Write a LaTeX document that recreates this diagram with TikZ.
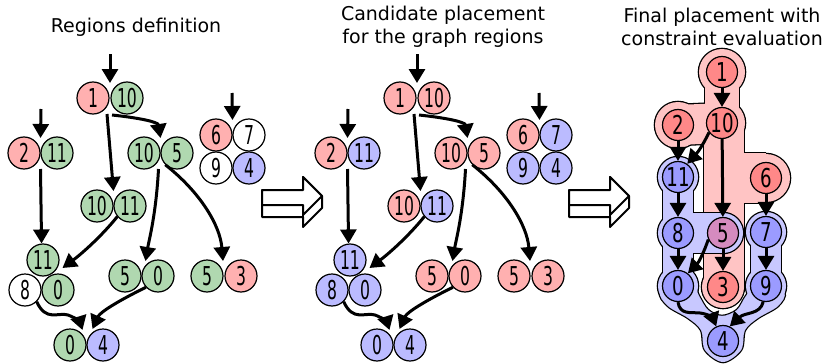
\documentclass[tikz,border=0pt]{standalone}
\usepackage{fontspec}
\setmainfont{DejaVu Sans}
\newfontfamily\numa[FakeStretch=0.6]{DejaVu Sans}
\newfontfamily\numb[FakeStretch=0.7]{DejaVu Sans}
\usetikzlibrary{arrows.meta,calc}

\definecolor{pk}{HTML}{FFB0B0}
\definecolor{gr}{HTML}{B0D8B0}
\definecolor{bl}{HTML}{BBBBFF}
\definecolor{rred}{HTML}{FF8888}
\definecolor{rblue}{HTML}{9B9BFF}
\definecolor{rpur}{HTML}{D58BBF}
\definecolor{pbg}{HTML}{FFC4C4}
\definecolor{bbg}{HTML}{C8C8FF}

% left panel colours
\colorlet{La1}{pk}\colorlet{La10}{gr}\colorlet{La2}{pk}\colorlet{La11}{gr}
\colorlet{Lb10}{gr}\colorlet{Lb5}{gr}
\colorlet{Lc6}{pk}\colorlet{Lc7}{white}\colorlet{Lc9}{white}\colorlet{Lc4}{bl}
\colorlet{Ld10}{gr}\colorlet{Ld11}{gr}
\colorlet{Le11}{gr}\colorlet{Le8}{white}\colorlet{Le0}{gr}
\colorlet{Lf5}{gr}\colorlet{Lf0}{gr}\colorlet{Lg5}{gr}\colorlet{Lg3}{pk}
\colorlet{Lh0}{gr}\colorlet{Lh4}{bl}
% middle panel colours
\colorlet{Ma1}{pk}\colorlet{Ma10}{pk}\colorlet{Ma2}{pk}\colorlet{Ma11}{bl}
\colorlet{Mb10}{pk}\colorlet{Mb5}{pk}
\colorlet{Mc6}{pk}\colorlet{Mc7}{bl}\colorlet{Mc9}{bl}\colorlet{Mc4}{bl}
\colorlet{Md10}{pk}\colorlet{Md11}{bl}
\colorlet{Me11}{bl}\colorlet{Me8}{bl}\colorlet{Me0}{bl}
\colorlet{Mf5}{pk}\colorlet{Mf0}{pk}\colorlet{Mg5}{pk}\colorlet{Mg3}{pk}
\colorlet{Mh0}{bl}\colorlet{Mh4}{bl}

\tikzset{
  pn/.style={circle, draw, line width=1.2pt, minimum size=32pt, inner sep=0pt,
    font=\numa\fontsize{26}{26}\selectfont},
  rn/.style={circle, draw, line width=1.2pt, minimum size=31pt, inner sep=0pt,
    font=\numb\fontsize{26}{26}\selectfont},
  arr/.style={line width=3pt, -{Triangle[length=14pt,width=16pt]}},
  ttl/.style={font=\fontsize{19}{23}\selectfont, align=center},
  bigarr/.style={fill=white, line width=2pt, line join=round},
}

\newcommand\regpanel[2]{%
  \def\pox{#2}%
  \node[pn,fill=#1a1]  (#1a1)  at (\pox+93,98)  {1};
  \node[pn,fill=#1a10] (#1a10) at (\pox+127,98) {10};
  \node[pn,fill=#1a2]  (#1a2)  at (\pox+24,153) {2};
  \node[pn,fill=#1a11] (#1a11) at (\pox+57,153) {11};
  \node[pn,fill=#1b10] (#1b10) at (\pox+144,153) {10};
  \node[pn,fill=#1b5]  (#1b5)  at (\pox+177,153) {5};
  \node[pn,fill=#1c6]  (#1c6)  at (\pox+216,135) {6};
  \node[pn,fill=#1c7]  (#1c7)  at (\pox+249,135) {7};
  \node[pn,fill=#1c9]  (#1c9)  at (\pox+216,168) {9};
  \node[pn,fill=#1c4]  (#1c4)  at (\pox+249,168) {4};
  \node[pn,fill=#1d10] (#1d10) at (\pox+97,206) {10};
  \node[pn,fill=#1d11] (#1d11) at (\pox+130,206) {11};
  \node[pn,fill=#1e11] (#1e11) at (\pox+43,260) {11};
  \node[pn,fill=#1e8]  (#1e8)  at (\pox+25,290) {8};
  \node[pn,fill=#1e0]  (#1e0)  at (\pox+58,290) {0};
  \node[pn,fill=#1f5]  (#1f5)  at (\pox+125,276) {5};
  \node[pn,fill=#1f0]  (#1f0)  at (\pox+158,276) {0};
  \node[pn,fill=#1g5]  (#1g5)  at (\pox+207,276) {5};
  \node[pn,fill=#1g3]  (#1g3)  at (\pox+241,276) {3};
  \node[pn,fill=#1h0]  (#1h0)  at (\pox+70,345) {0};
  \node[pn,fill=#1h4]  (#1h4)  at (\pox+103,345) {4};
  \coordinate (#1ina) at (\pox+110,54);
  \coordinate (#1inb) at (\pox+41,109);
  \coordinate (#1inc) at (\pox+232,93);
  \draw[arr] (#1ina) -- ($(#1a1)!0.5!(#1a10)+(0,-15)$);
  \draw[arr] (#1inb) -- ($(#1a2)!0.5!(#1a11)+(0,-15)$);
  \draw[arr] (#1inc) -- ($(#1c6)!0.5!(#1c7)+(0,-15)$);
  \draw[arr] ($(#1a1)!0.5!(#1a10)+(-3,16)$) -- ($(#1d10)!0.5!(#1d11)+(0,-15)$);
  \draw[arr] ($(#1a1)!0.5!(#1a10)+(2,17)$) .. controls (\pox+140,118) and (\pox+158,122) .. ($(#1b10)!0.5!(#1b5)+(0,-15)$);
  \draw[arr] ($(#1a2)!0.5!(#1a11)+(0,16)$) -- (#1e11.95);
  \draw[arr] (#1d11.-140) .. controls (\pox+100,238) and (\pox+80,255) .. ($(#1e11)!0.5!(#1e0)+(12,-7)$);
  \draw[arr] ($(#1b10)!0.5!(#1b5)+(-2,16)$) .. controls (\pox+156,215) and (\pox+149,240) .. ($(#1f5)!0.5!(#1f0)+(4,-15)$);
  \draw[arr] (#1b5.-135) .. controls (\pox+200,192) and (\pox+220,225) .. ($(#1g5)!0.5!(#1g3)+(-1,-15)$);
  \draw[arr] (#1e8.-45) .. controls (\pox+46,322) and (\pox+58,312) .. (\pox+68,315) .. controls (\pox+76,318) and (\pox+80,322) .. ($(#1h0)!0.5!(#1h4)+(-4,-15)$);
  \draw[arr] (#1f0.-137) .. controls (\pox+120,300) and (\pox+100,312) .. ($(#1h0)!0.5!(#1h4)+(6,-16)$);
}

\newcommand\bigarrow[1]{%
  \def\bgx{#1}%
  \draw[bigarr] (\bgx+262,190) -- (\bgx+303,190) -- (\bgx+303,177) -- (\bgx+322,196) -- (\bgx+322,208) -- (\bgx+303,227) -- (\bgx+303,217) -- (\bgx+262,217) -- cycle;
  \draw[bigarr] (\bgx+262,190) -- (\bgx+303,190) -- (\bgx+303,177) -- (\bgx+322,196) -- (\bgx+303,215) -- (\bgx+303,205) -- (\bgx+262,205) -- cycle;
  \draw[line width=1.5pt] (\bgx+303,215) -- (\bgx+303,227);
}

\newcommand\bluearea[2]{%
  \foreach \n in {p11,p8,p0,p7,p9}{\fill[#2] (\n) circle[radius=20pt+#1];}
  \fill[#2] (p5) circle[radius=20pt+#1];
  \draw[#2, line width=30pt+2*#1] (p11) -- (p8) -- (p0);
  \draw[#2, line width=40pt+2*#1] (p8) -- (p5);
  \draw[#2, line width=30pt+2*#1] (p7) -- (p9);
  \path[fill=#2, draw=#2, line width=2*#1+0.01pt] plot[smooth cycle, tension=0.55] coordinates {
    (661,292) (690,280) (699,296) (708,310) (722,316) (737,310) (746,296)
    (760,280) (784,292) (778,306) (758,318) (745,330) (741,350) (723,362)
    (705,350) (701,330) (688,318) (668,306)};
}
\newcommand\pinkarea[2]{%
  \foreach \n/\r in {p1/23,p10/23,p2/23,p3/21,p6/24}{\fill[#2] (\n) circle[radius=\r pt+#1];}
  \draw[#2, line width=34pt+2*#1] (p1) -- (p10);
  \draw[#2, line width=40pt+2*#1] (p2) -- (p10);
  \draw[#2, line width=40pt+2*#1] (pc1) -- (pc3);
  \draw[#2, line width=50pt+2*#1] (p6mid) -- (p6);
}
\newcommand\lobearea[2]{%
  \fill[#2] (p5) circle[radius=20pt+#1];
  \draw[#2, line width=40pt+2*#1] (lobel) -- (p5);
}

\begin{document}
\begin{tikzpicture}[x=1pt,y=-1pt]
\useasboundingbox (0,0) rectangle (828,364);
\fill[white] (0,0) rectangle (828,364);

% titles
\node[ttl] (t1) at (136,27) {Regions definition};
\node[ttl] (t2) at (443,27) {Candidate placement\\for the graph regions};
\node[ttl] (t3) at (722,27) {Final placement with\\constraint evaluation};

\regpanel{L}{0}
\regpanel{M}{307}

\bigarrow{0}
\bigarrow{307}

% right panel
\coordinate (p1) at (722,72);
\coordinate (p10) at (722,123);
\coordinate (p2) at (678,125);
\coordinate (p11) at (678,177);
\coordinate (p6) at (766,178);
\coordinate (p6mid) at (724,178);
\coordinate (p8) at (678,233);
\coordinate (p5) at (723,233);
\coordinate (p7) at (766,232);
\coordinate (p0) at (678,286);
\coordinate (p3) at (723,287);
\coordinate (p9) at (766,286);
\coordinate (p4) at (723,341);
\coordinate (pc1) at (724,123);
\coordinate (pc3) at (724,287);
\coordinate (lobel) at (690,233);

\bluearea{1.3pt}{black}
\bluearea{0pt}{bbg}
\pinkarea{1.3pt}{black}
\pinkarea{0pt}{pbg}
\begin{scope}
  \clip (703,0) rectangle (828,364);
  \lobearea{1.3pt}{black}
  \lobearea{0pt}{bbg}
\end{scope}

\node[rn,fill=rred]  (r1)  at (p1) {1};
\node[rn,fill=rred]  (r10) at (p10) {10};
\node[rn,fill=rred]  (r2)  at (p2) {2};
\node[rn,fill=rblue] (r11) at (p11) {11};
\node[rn,fill=rred]  (r6)  at (p6) {6};
\node[rn,fill=rblue] (r8)  at (p8) {8};
\node[rn,fill=rpur]  (r5)  at (p5) {5};
\node[rn,fill=rblue] (r7)  at (p7) {7};
\node[rn,fill=rblue] (r0)  at (p0) {0};
\node[rn,fill=rred]  (r3)  at (p3) {3};
\node[rn,fill=rblue] (r9)  at (p9) {9};
\node[rn,fill=rblue] (r4)  at (p4) {4};

\draw[arr] (r1) -- (r10);
\draw[arr] (r2) -- (r11);
\draw[arr] (r10.-144) .. controls (703,145) and (698,152) .. (r11.55);
\draw[arr] (r10) -- (r5);
\draw[arr] (r6) -- (r7);
\draw[arr] (r11) -- (r8);
\draw[arr] (r8) -- (r0);
\draw[arr] (r5.-156) .. controls (704,252) and (699,262) .. (r0.52);
\draw[arr] (r5) -- (r3);
\draw[arr] (r7) -- (r9);
\draw[arr] (r0.-90) .. controls (680,315) and (690,312) .. (700,313) .. controls (708,314) and (713,318) .. (r4.115);
\draw[arr] (r9.-100) .. controls (760,315) and (745,312) .. (r4.65);
\end{tikzpicture}
\end{document}
